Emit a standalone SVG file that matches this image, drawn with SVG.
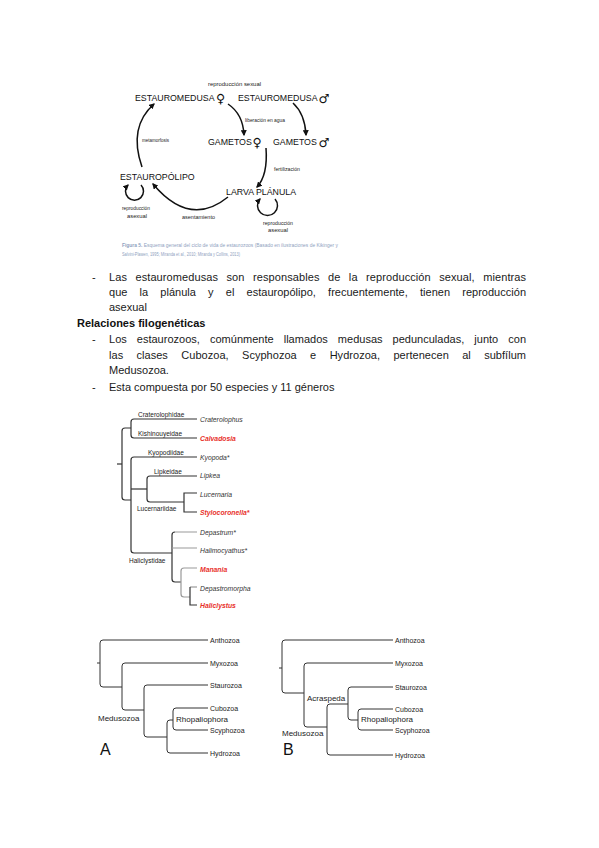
<svg xmlns="http://www.w3.org/2000/svg" width="599" height="848" viewBox="0 0 599 848">
<defs>
<marker id="ah" viewBox="0 0 10 10" refX="8" refY="5" markerWidth="6" markerHeight="6" markerUnits="userSpaceOnUse" orient="auto">
<path d="M0,0 L10,5 L0,10 z" fill="#111"/>
</marker>
<style>
text{font-family:"Liberation Sans",Arial,sans-serif;fill:#111}
.big{font-size:8.8px}
.sym{font-family:"DejaVu Sans",sans-serif;font-size:12.5px}
.sm{font-size:5.6px;fill:#222}
.cap{font-size:4.6px;fill:#8fa2c0}
.body{font-size:11px;fill:#1a1a1a}
.head{font-size:11px;font-weight:bold}
.arr{fill:none;stroke:#111;stroke-width:1.5;marker-end:url(#ah)}
.tl{fill:none;stroke:#333;stroke-width:1.2}
.tg{fill:none;stroke:#999;stroke-width:1.2}
.fam{font-size:6.5px;fill:#222}
.tax{font-size:6.8px;font-style:italic;fill:#333}
.red{fill:#e8302a;font-weight:bold}
.ab{fill:none;stroke:#333;stroke-width:1}
.tip{font-size:7px;fill:#222}
.int{font-size:8px;fill:#222}
.let{font-size:16px;fill:#111}
</style>
</defs>
<rect width="599" height="848" fill="#fff"/>

<!-- Life cycle -->
<g id="cycle-connectors">
<path class="arr" d="M228,104 Q243,114 244,135"/>
<path class="arr" d="M293,103 Q305,114 306,135"/>
<path class="arr" d="M266,148 Q268,175 257,187"/>
<path class="arr" d="M228,197 Q190,228 153,184"/>
<path class="arr" d="M142,167 Q128,127 154,104"/>
<path class="arr" d="M141,185 A9,9 0 1 1 128,185"/>
<path class="arr" d="M275,199 A10,10 0 1 1 260,199"/>
</g>
<g id="n-medusa-f"><text class="big" x="135" y="101">ESTAUROMEDUSA</text><text class="sym" x="216" y="102.5">♀</text></g>
<g id="n-medusa-m"><text class="big" x="238" y="101">ESTAUROMEDUSA</text><text class="sym" x="318.5" y="102.5">♂</text></g>
<g id="n-gametos-f"><text class="big" x="208" y="145">GAMETOS</text><text class="sym" x="252.5" y="146.5">♀</text></g>
<g id="n-gametos-m"><text class="big" x="273" y="145">GAMETOS</text><text class="sym" x="318.5" y="146.5">♂</text></g>
<g id="n-polipo"><text class="big" x="120" y="180">ESTAUROPÓLIPO</text></g>
<g id="n-planula"><text class="big" x="226" y="194.5">LARVA PLÁNULA</text></g>
<g id="cycle-labels">
<text class="sm" x="208" y="85.5" textLength="53" lengthAdjust="spacingAndGlyphs">reproducción sexual</text>
<text class="sm" x="245" y="122" textLength="40" lengthAdjust="spacingAndGlyphs">liberación en agua</text>
<text class="sm" x="142" y="142" textLength="27" lengthAdjust="spacingAndGlyphs">metamorfosis</text>
<text class="sm" x="274" y="171" textLength="26" lengthAdjust="spacingAndGlyphs">fertilización</text>
<text class="sm" x="182" y="219" textLength="33" lengthAdjust="spacingAndGlyphs">asentamiento</text>
<text class="sm" x="122" y="210" textLength="28" lengthAdjust="spacingAndGlyphs">reproducción</text>
<text class="sm" x="127" y="217.5" textLength="20" lengthAdjust="spacingAndGlyphs">asexual</text>
<text class="sm" x="263" y="225" textLength="30" lengthAdjust="spacingAndGlyphs">reproducción</text>
<text class="sm" x="268" y="232" textLength="20" lengthAdjust="spacingAndGlyphs">asexual</text>
</g>
<g id="caption">
<text class="cap" x="122" y="247" textLength="216" lengthAdjust="spacingAndGlyphs"><tspan font-weight="bold">Figura 5.</tspan> Esquema general del ciclo de vida de estaurozoos (Basado en ilustraciones de Kikinger y</text>
<text class="cap" x="122" y="256" textLength="118" lengthAdjust="spacingAndGlyphs">Salvini-Plawen, 1995; Miranda et al., 2010; Miranda y Collins, 2013)</text>
</g>

<!-- Body text -->
<g id="body-text">
<text class="body" x="92" y="281">-</text>
<text class="body" x="109" y="281" word-spacing="5.3" textLength="417" lengthAdjust="spacing">Las estauromedusas son responsables de la reproducción sexual, mientras</text>
<text class="body" x="109" y="296" word-spacing="9.1" textLength="417" lengthAdjust="spacing">que la plánula y el estauropólipo, frecuentemente, tienen reproducción</text>
<text class="body" x="109" y="311">asexual</text>
<text class="head" x="77" y="327">Relaciones filogenéticas</text>
<text class="body" x="92" y="343">-</text>
<text class="body" x="109" y="343" word-spacing="6.9" textLength="417" lengthAdjust="spacing">Los estaurozoos, comúnmente llamados medusas pedunculadas, junto con</text>
<text class="body" x="109" y="359" word-spacing="10.3" textLength="417" lengthAdjust="spacing">las clases Cubozoa, Scyphozoa e Hydrozoa, pertenecen al subfílum</text>
<text class="body" x="109" y="374">Medusozoa.</text>
<text class="body" x="92" y="391">-</text>
<text class="body" x="109" y="391">Esta compuesta por 50 especies y 11 géneros</text>
</g>

<!-- Staurozoa tree -->
<g id="tree1-connectors">
<path class="tl" d="M117,464 H122"/>
<path class="tl" d="M131,428 H125 Q122,428 122,431 V497 Q122,500 125,500 H131"/>
<path class="tl" d="M197,419 H134 Q131,419 131,422 V435 Q131,438 134,438 H197"/>
<path class="tl" d="M197,457 H134 Q131,457 131,460 V550 Q131,553 134,553 H172"/>
<path class="tl" d="M131,489 H147"/>
<path class="tl" d="M197,476 H150 Q147,476 147,479 V499 Q147,502 150,502 H184"/>
<path class="tl" d="M197,493 H184 V512 H197"/>
<path class="tl" d="M175,532 Q172,532 172,535 V579 Q172,582 175,582 H181"/>
<path class="tg" d="M197,532 H175 M172,548 H197"/>
<path class="tg" d="M197,568 H184 Q181,568 181,571 V594 Q181,597 184,597 H190"/>
<path class="tg" d="M197,587 H190"/>
<path class="tl" d="M190,587 V605 H197"/>
</g>
<g id="tree1-labels">
<text class="fam" x="138" y="417">Craterolophidae</text>
<text class="fam" x="138" y="436">Kishinouyeidae</text>
<text class="fam" x="148" y="455">Kyopodiidae</text>
<text class="fam" x="154" y="474">Lipkeidae</text>
<text class="fam" x="137" y="511">Lucernariidae</text>
<text class="fam" x="129" y="563">Haliclystidae</text>
<text class="tax" x="200" y="422">Craterolophus</text>
<text class="tax red" x="200" y="441">Calvadosia</text>
<text class="tax" x="200" y="460">Kyopoda*</text>
<text class="tax" x="200" y="478">Lipkea</text>
<text class="tax" x="200" y="497">Lucernaria</text>
<text class="tax red" x="200" y="515">Stylocoronella*</text>
<text class="tax" x="200" y="535">Depastrum*</text>
<text class="tax" x="200" y="553">Halimocyathus*</text>
<text class="tax red" x="200" y="572">Manania</text>
<text class="tax" x="200" y="591">Depastromorpha</text>
<text class="tax red" x="200" y="608">Haliclystus</text>
</g>

<!-- Tree A -->
<g id="treeA-connectors">
<path class="ab" d="M97,663 H100"/>
<path class="ab" d="M208,640 H103 Q100,640 100,643 V684 Q100,687 103,687 H122"/>
<path class="ab" d="M208,663 H125 Q122,663 122,666 V707 Q122,710 125,710 H144"/>
<path class="ab" d="M208,685 H147 Q144,685 144,688 V734 Q144,737 147,737 H167"/>
<path class="ab" d="M173,720 H170 Q167,720 167,723 V750 Q167,753 170,753 H208"/>
<path class="ab" d="M208,708 H176 Q173,708 173,711 V727 Q173,730 176,730 H208"/>
</g>
<g id="treeA-labels">
<text class="tip" x="210" y="642.5">Anthozoa</text>
<text class="tip" x="210" y="665.5">Myxozoa</text>
<text class="tip" x="210" y="687.5">Staurozoa</text>
<text class="tip" x="210" y="710.5">Cubozoa</text>
<text class="tip" x="210" y="732.5">Scyphozoa</text>
<text class="tip" x="210" y="755.5">Hydrozoa</text>
<text class="int" x="98" y="721">Medusozoa</text>
<text class="int" x="176" y="722">Rhopaliophora</text>
<text class="let" x="100" y="755">A</text>
</g>

<!-- Tree B -->
<g id="treeB-connectors">
<path class="ab" d="M279,668 H282"/>
<path class="ab" d="M393,640 H285 Q282,640 282,643 V690 Q282,693 285,693 H304"/>
<path class="ab" d="M393,663 H307 Q304,663 304,666 V724 Q304,727 307,727 H327"/>
<path class="ab" d="M348,704 H330 Q327,704 327,707 V752 Q327,755 330,755 H393"/>
<path class="ab" d="M393,687 H351 Q348,687 348,690 V717 Q348,720 351,720 H358"/>
<path class="ab" d="M393,709 H361 Q358,709 358,712 V727 Q358,730 361,730 H393"/>
</g>
<g id="treeB-labels">
<text class="tip" x="395" y="642.5">Anthozoa</text>
<text class="tip" x="395" y="665.5">Myxozoa</text>
<text class="tip" x="395" y="689.5">Staurozoa</text>
<text class="tip" x="395" y="711.5">Cubozoa</text>
<text class="tip" x="395" y="732.5">Scyphozoa</text>
<text class="tip" x="395" y="757.5">Hydrozoa</text>
<text class="int" x="307" y="701">Acraspeda</text>
<text class="int" x="361" y="722">Rhopaliophora</text>
<text class="int" x="282" y="736">Medusozoa</text>
<text class="let" x="283" y="755">B</text>
</g>
</svg>
